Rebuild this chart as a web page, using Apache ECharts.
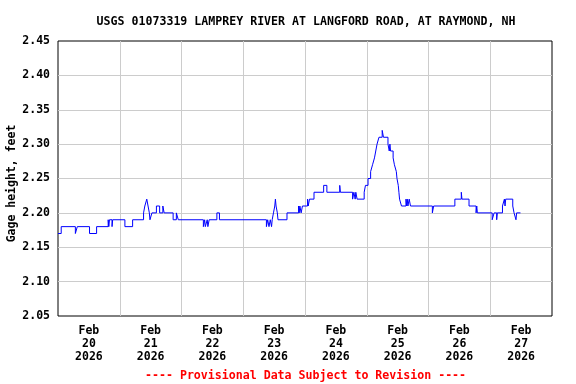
<!DOCTYPE html>
<html>
<head>
<meta charset="utf-8">
<script src="https://cdn.jsdelivr.net/npm/echarts@6/dist/echarts.min.js"></script>
<style>html,body{margin:0;padding:0;background:#fff;}#c{width:576px;height:384px;}</style>
</head>
<body>
<div id="c"></div>
<script>
// Chart data
const titleText = 'USGS 01073319 LAMPREY RIVER AT LANGFORD ROAD, AT RAYMOND, NH';
const yAxisName = 'Gage height, feet';
const footerText = '---- Provisional Data Subject to Revision ----';
const dayLabels = ['Feb\n20\n2026','Feb\n21\n2026','Feb\n22\n2026','Feb\n23\n2026','Feb\n24\n2026','Feb\n25\n2026','Feb\n26\n2026','Feb\n27\n2026'];
const axisStart = '2026-02-20 00:00';
const axisEnd = '2026-02-28 00:00';
const yTicks = [2.05, 2.10, 2.15, 2.20, 2.25, 2.30, 2.35, 2.40, 2.45];

const times = [
 '2026-02-20 00:00','2026-02-20 01:15','2026-02-20 06:45','2026-02-20 07:30','2026-02-20 12:15','2026-02-20 15:00',
 '2026-02-20 19:30','2026-02-20 19:45','2026-02-20 20:00','2026-02-20 21:00','2026-02-20 21:15',
 '2026-02-21 02:00','2026-02-21 05:00','2026-02-21 09:15','2026-02-21 09:45','2026-02-21 10:30','2026-02-21 11:00',
 '2026-02-21 11:30','2026-02-21 11:45','2026-02-21 12:30','2026-02-21 14:15','2026-02-21 15:30','2026-02-21 16:45',
 '2026-02-21 17:15','2026-02-21 20:45','2026-02-21 22:00','2026-02-21 22:45',
 '2026-02-22 08:30','2026-02-22 09:00','2026-02-22 09:15','2026-02-22 10:00','2026-02-22 10:15','2026-02-22 10:45',
 '2026-02-22 13:45','2026-02-22 14:45',
 '2026-02-23 09:00','2026-02-23 09:30','2026-02-23 10:00','2026-02-23 10:30','2026-02-23 11:00','2026-02-23 11:15',
 '2026-02-23 11:45','2026-02-23 12:15','2026-02-23 12:30','2026-02-23 12:45','2026-02-23 13:15','2026-02-23 13:30',
 '2026-02-23 17:00','2026-02-23 21:30','2026-02-23 21:45','2026-02-23 22:00','2026-02-23 22:30','2026-02-23 23:00',
 '2026-02-24 01:00','2026-02-24 01:15','2026-02-24 01:45','2026-02-24 03:30','2026-02-24 07:15','2026-02-24 08:30',
 '2026-02-24 13:30','2026-02-24 13:45','2026-02-24 18:30','2026-02-24 19:00','2026-02-24 19:30','2026-02-24 19:45',
 '2026-02-24 20:15','2026-02-24 23:00','2026-02-24 23:30',
 '2026-02-25 00:30','2026-02-25 01:30','2026-02-25 02:15','2026-02-25 03:00','2026-02-25 03:30','2026-02-25 04:00',
 '2026-02-25 04:45','2026-02-25 06:00','2026-02-25 06:30','2026-02-25 08:15','2026-02-25 08:45','2026-02-25 09:00',
 '2026-02-25 09:15','2026-02-25 10:15','2026-02-25 10:45','2026-02-25 11:30','2026-02-25 11:45','2026-02-25 12:15',
 '2026-02-25 12:30','2026-02-25 12:45','2026-02-25 13:30','2026-02-25 15:15','2026-02-25 15:30','2026-02-25 15:45',
 '2026-02-25 16:00','2026-02-25 16:30','2026-02-25 17:00',
 '2026-02-26 01:30','2026-02-26 02:00','2026-02-26 10:15','2026-02-26 12:45','2026-02-26 13:00','2026-02-26 15:45',
 '2026-02-26 18:30','2026-02-26 18:45','2026-02-26 19:00',
 '2026-02-27 00:45','2026-02-27 01:30','2026-02-27 02:30','2026-02-27 02:45','2026-02-27 04:45','2026-02-27 05:30',
 '2026-02-27 05:45','2026-02-27 06:00','2026-02-27 08:45','2026-02-27 09:15','2026-02-27 10:00','2026-02-27 10:15',
 '2026-02-27 11:45'
];
const gageHeight = [
 2.17,2.18,2.17,2.18,2.17,2.18,
 2.19,2.18,2.19,2.18,2.19,
 2.18,2.19,2.20,2.21,2.22,2.21,
 2.20,2.19,2.20,2.21,2.20,2.21,
 2.20,2.19,2.20,2.19,
 2.18,2.19,2.18,2.19,2.18,2.19,
 2.20,2.19,
 2.18,2.19,2.18,2.19,2.18,2.19,
 2.20,2.21,2.22,2.21,2.20,2.19,
 2.20,2.21,2.20,2.21,2.20,2.21,
 2.22,2.21,2.22,2.23,2.24,2.23,
 2.24,2.23,2.22,2.23,2.22,2.23,
 2.22,2.23,2.24,
 2.25,2.26,2.27,2.28,2.29,2.30,
 2.31,2.32,2.31,2.30,2.29,2.30,
 2.29,2.28,2.27,2.26,2.25,2.24,
 2.23,2.22,2.21,2.22,2.21,2.22,
 2.21,2.22,2.21,
 2.20,2.21,2.22,2.23,2.22,2.21,
 2.20,2.21,2.20,
 2.19,2.20,2.19,2.20,2.21,2.22,
 2.21,2.22,2.21,2.20,2.19,2.20,
 2.20
];

function toMs(s) {
  const [d, t] = s.split(' ');
  const [Y, M, D] = d.split('-').map(Number);
  const [h, m] = t.split(':').map(Number);
  return Date.UTC(Y, M - 1, D, h, m);
}

const seriesData = times.map((t, i) => [toMs(t), gageHeight[i]]);
const DAY = 86400000;
const font = '"DejaVu Sans Mono", "Liberation Mono", monospace';

const chart = echarts.init(document.getElementById('c'), null, {renderer: 'canvas'});
chart.setOption({
  animation: false,
  backgroundColor: '#ffffff',
  title: {
    text: titleText,
    left: 301, top: 11, textAlign: 'center',
    textStyle: {fontFamily: font, fontWeight: 'bold', fontSize: 11.6, color: '#000'}
  },
  graphic: [{
    type: 'text', left: 145, top: 370,
    style: {text: footerText, fill: '#ff0000', font: 'bold 11.6px ' + font}
  }],
  grid: {left: 58, top: 41, width: 494, height: 275, outerBoundsMode: 'none', containLabel: false,
         show: true, borderColor: '#000', borderWidth: 1, backgroundColor: '#fff'},
  xAxis: [{
    type: 'value', min: toMs(axisStart), max: toMs(axisEnd), interval: DAY,
    axisLine: {show: false}, axisTick: {show: false}, axisLabel: {show: false},
    splitLine: {show: true, showMinLine: false, showMaxLine: false, lineStyle: {color: '#cccccc', width: 1}}
  }, {
    type: 'category', data: dayLabels, boundaryGap: true, position: 'bottom',
    axisLine: {show: false}, axisTick: {show: false}, splitLine: {show: false},
    axisLabel: {fontFamily: font, fontWeight: 'bold', fontSize: 11.5, color: '#000', lineHeight: 13, margin: 9, interval: 0}
  }],
  yAxis: {
    type: 'value', min: yTicks[0], max: yTicks[yTicks.length - 1], interval: 0.05,
    name: yAxisName, nameLocation: 'middle', nameGap: 40, nameRotate: 90, nameMoveOverlap: false,
    nameTextStyle: {fontFamily: font, fontWeight: 'bold', fontSize: 11.5, color: '#000', padding: [0, 10, 0, 0]},
    axisLine: {show: false}, axisTick: {show: false},
    axisLabel: {fontFamily: font, fontWeight: 'bold', fontSize: 11.5, color: '#000', margin: 8, formatter: v => v.toFixed(2)},
    splitLine: {show: true, showMinLine: false, showMaxLine: false, lineStyle: {color: '#cccccc', width: 1}}
  },
  series: [{
    type: 'line', xAxisIndex: 0, data: seriesData, step: 'end', showSymbol: false,
    lineStyle: {color: '#0000ff', width: 1}, itemStyle: {color: '#0000ff'}
  }]
});
</script>
</body>
</html>
